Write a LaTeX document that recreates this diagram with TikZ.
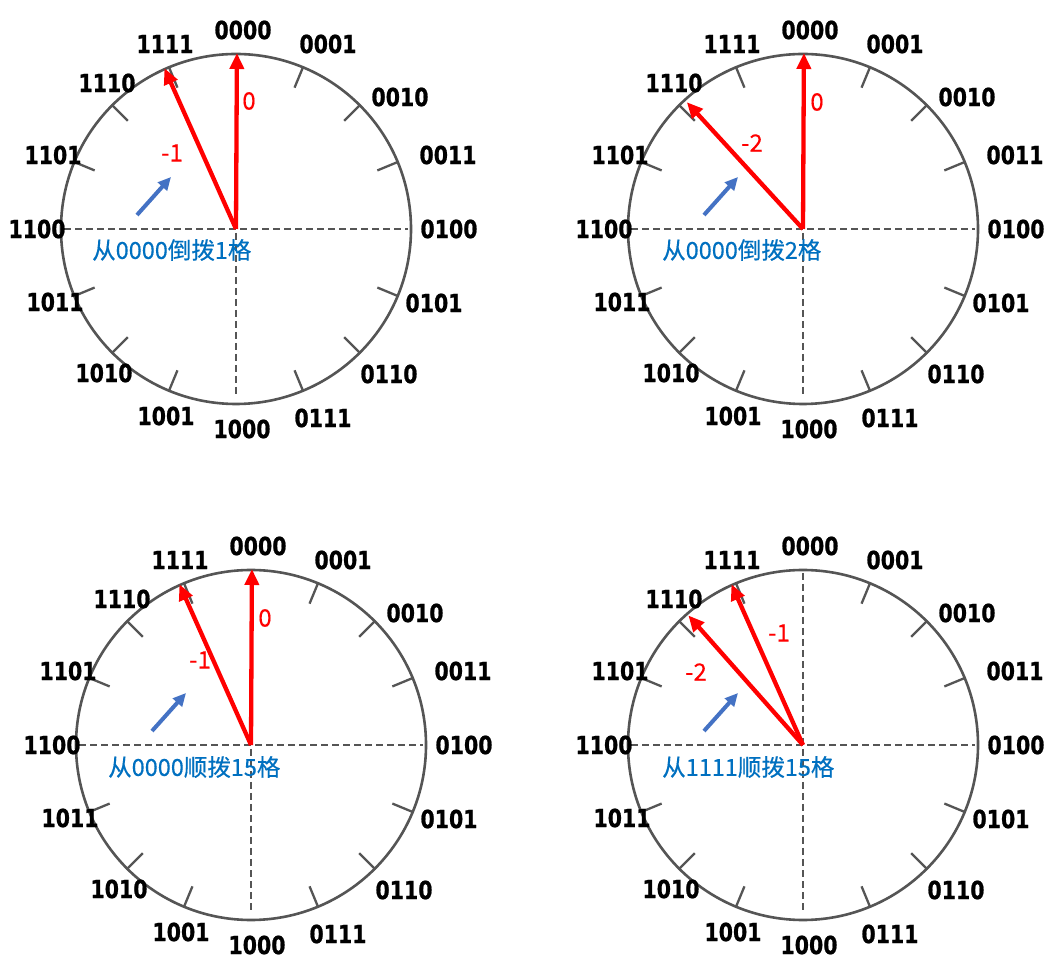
\documentclass[tikz,border=0pt]{standalone}
\usepackage{fontspec}
\usetikzlibrary{arrows.meta}
\newfontfamily\labfont[FakeStretch=0.82, BoldFeatures={FakeBold=0.8}]{DejaVu Sans}
\newfontfamily\cjkfont[FakeBold=0.4]{Noto Sans CJK SC}
\definecolor{rimgray}{RGB}{85,85,85}
\definecolor{txtblue}{RGB}{0,112,192}
\definecolor{arrblue}{RGB}{68,114,196}
\tikzset{
  rim/.style={draw=rimgray, line width=2.6pt},
  ticksty/.style={draw=rimgray, line width=2.3pt},
  axisdash/.style={draw=rimgray, line width=2pt, dash pattern=on 7pt off 4pt},
  binlab/.style={font=\labfont\bfseries\fontsize{25}{25}\selectfont, inner sep=0pt, text=black},
  redlab/.style={text=red, font=\cjkfont\fontsize{24}{24}\selectfont, inner sep=0pt},
  bluelab/.style={text=txtblue, font=\cjkfont\fontsize{23.5}{24}\selectfont, inner sep=0pt, anchor=west},
  redarrow/.style={draw=red, line width=4.3pt, -{Triangle[length=16pt,width=14pt]}},
  bluearrow/.style={draw=arrblue, line width=4pt, -{Triangle[length=13pt,width=12pt]}},
  clockface/.pic={
    \coordinate (-c) at (0,0);
    \draw[rim] (0,0) circle[radius=175];
    \foreach \a in {1,2,3,5,6,7,9,10,11,13,14,15}
      \draw[ticksty] (\a*22.5:176) -- (\a*22.5:153);
    \draw[axisdash] (-172,0) -- (172,0);
    \draw[axisdash] (0,172) -- (0,-168);
    \foreach \t/\dx/\dy in {0000/7/199, 0001/92/185, 0010/164/132, 0011/212/74,
      0100/213/0, 0101/198/-74, 0110/153/-145, 0111/87/-189, 1000/6/-200,
      1001/-70/-187, 1010/-132/-144, 1011/-181/-73, 1100/-199/0,
      1101/-183/74, 1110/-129/146, 1111/-71/185}
      \node[binlab] (-\t) at (\dx,\dy) {\t};
    \coordinate (-ba) at (-99,14);
    \coordinate (-bb) at (-65,52);
    \draw[bluearrow] (-ba) -- (-bb);
  }
}
\begin{document}
\begin{tikzpicture}[x=1pt,y=1pt]
\useasboundingbox[fill=white] (0,0) rectangle (1055,967);

% clock 1
\pic (k1) at (236,738) {clockface};
\path (k1-c) ++(89.7:176) coordinate (k1-z) (k1-c) ++(114:176) coordinate (k1-m);
\draw[redarrow] (k1-c) -- (k1-z);
\draw[redarrow] (k1-c) -- (k1-m);
\node[redlab] (k1-l0) at ([shift={(13,128)}]k1-c) {0};
\node[redlab] (k1-l1) at ([shift={(-64,76)}]k1-c) {-1};
\node[bluelab] (k1-txt) at ([shift={(-144,-21)}]k1-c) {从0000倒拨1格};

% clock 2
\pic (k2) at (803,738) {clockface};
\path (k2-c) ++(89.7:176) coordinate (k2-z) (k2-c) ++(132.5:172) coordinate (k2-m);
\draw[redarrow] (k2-c) -- (k2-z);
\draw[redarrow] (k2-c) -- (k2-m);
\node[redlab] (k2-l0) at ([shift={(14,127)}]k2-c) {0};
\node[redlab] (k2-l1) at ([shift={(-51,86)}]k2-c) {-2};
\node[bluelab] (k2-txt) at ([shift={(-141,-21)}]k2-c) {从0000倒拨2格};

% clock 3
\pic (k3) at (251,222) {clockface};
\path (k3-c) ++(89.7:176) coordinate (k3-z) (k3-c) ++(114:176) coordinate (k3-m);
\draw[redarrow] (k3-c) -- (k3-z);
\draw[redarrow] (k3-c) -- (k3-m);
\node[redlab] (k3-l0) at ([shift={(14,127)}]k3-c) {0};
\node[redlab] (k3-l1) at ([shift={(-51,85)}]k3-c) {-1};
\node[bluelab] (k3-txt) at ([shift={(-143,-22)}]k3-c) {从0000顺拨15格};

% clock 4
\pic (k4) at (803,222) {clockface};
\path (k4-c) ++(114:176) coordinate (k4-m1) (k4-c) ++(131.5:173) coordinate (k4-m2);
\draw[redarrow] (k4-c) -- (k4-m1);
\draw[redarrow] (k4-c) -- (k4-m2);
\node[redlab] (k4-l1) at ([shift={(-24,112)}]k4-c) {-1};
\node[redlab] (k4-l2) at ([shift={(-107,73)}]k4-c) {-2};
\node[bluelab] (k4-txt) at ([shift={(-141,-22)}]k4-c) {从1111顺拨15格};
\end{tikzpicture}
\end{document}
